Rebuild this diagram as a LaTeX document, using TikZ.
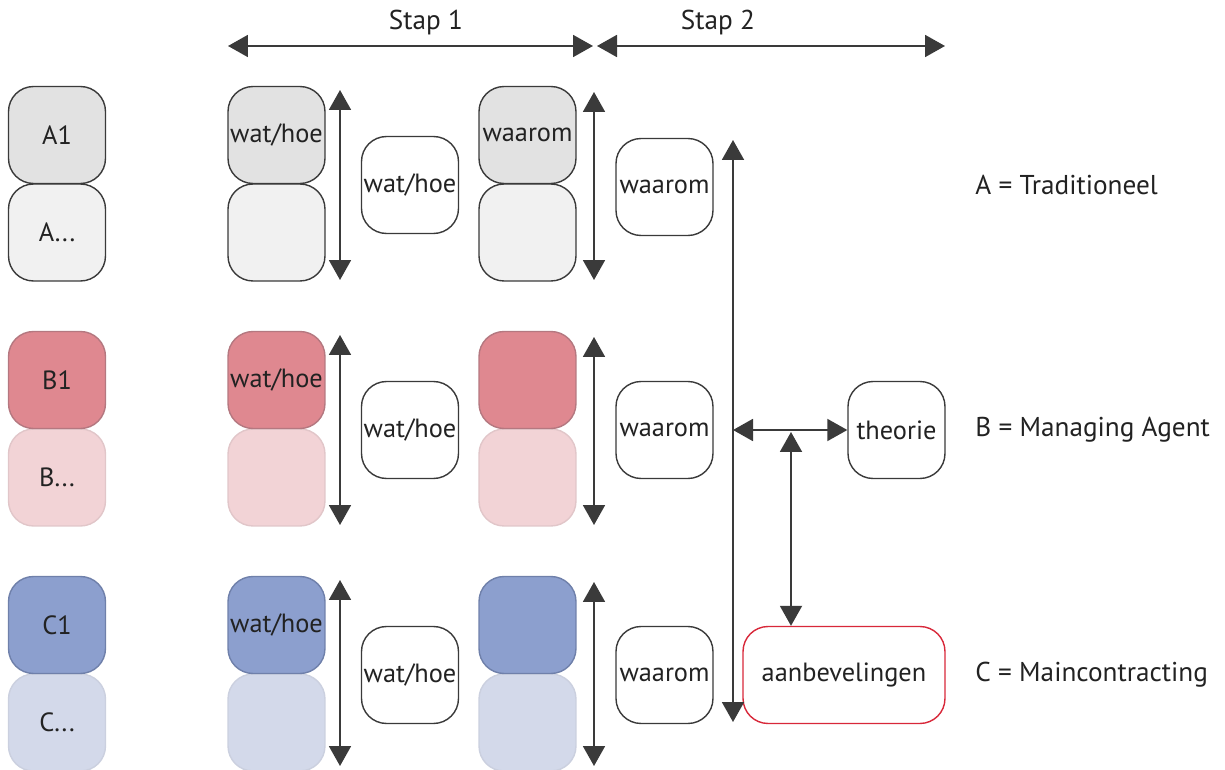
\documentclass[tikz,border=0pt]{standalone}
\usepackage{fontspec}
\setmainfont{PT Sans}
\usetikzlibrary{arrows.meta}
\definecolor{edgegray}{HTML}{3A3A3A}
\definecolor{agray}{HTML}{E2E2E2}
\definecolor{agraylt}{HTML}{F1F1F1}
\definecolor{bred}{HTML}{DF8890}
\definecolor{bredln}{HTML}{B47880}
\definecolor{bredlt}{HTML}{F2D3D6}
\definecolor{cblue}{HTML}{8C9FCE}
\definecolor{cblueln}{HTML}{6F80AA}
\definecolor{cbluelt}{HTML}{D3D9EA}
\definecolor{txt}{HTML}{222222}
\definecolor{recred}{HTML}{D8283A}
\tikzset{
  box/.style={rounded corners=0.5cm, minimum width=1.94cm, minimum height=1.94cm,
    inner sep=0pt, line width=0.8pt, font=\fontsize{15}{17}\selectfont, text=txt},
  boxa/.style={box, draw=edgegray, fill=agray},
  boxalt/.style={box, draw=edgegray, fill=agraylt},
  boxb/.style={box, draw=bredln, fill=bred},
  boxblt/.style={box, draw=bredlt!85!gray, fill=bredlt},
  boxc/.style={box, draw=cblueln, fill=cblue},
  boxclt/.style={box, draw=cbluelt!90!gray, fill=cbluelt},
  plain/.style={box, draw=edgegray, fill=white},
  link/.style={line width=1.1pt, draw=edgegray,
    {Triangle[length=0.40cm,width=0.44cm]}-{Triangle[length=0.40cm,width=0.44cm]}},
  legend/.style={anchor=west, inner sep=0pt, font=\fontsize{15.5}{17}\selectfont, text=txt},
  steplabel/.style={inner sep=0pt, font=\fontsize{15.5}{17}\selectfont, text=txt}
}
\begin{document}
\begin{tikzpicture}[x=0.02cm, y=-0.02cm]
\useasboundingbox (0,0) rectangle (1225,770);

% step header
\coordinate (s1l) at (228,46);
\coordinate (s1r) at (593,46);
\coordinate (s2l) at (597,46);
\coordinate (s2r) at (945,46);
\draw[link] (s1l) -- (s1r);
\draw[link] (s2l) -- (s2r);
\node[steplabel] (stap1) at (426,23) {Stap 1};
\node[steplabel] (stap2) at (718,23) {Stap 2};

% row A
\node[boxalt] (a2) at (57,232.5) {A...};
\node[boxa] (a1) at (57,135) {A1};
\node[boxalt] (aw2) at (276.5,232.5) {};
\node[boxa] (aw1) at (276.5,135) {wat/hoe};
\node[plain] (awh) at (410,185) {wat/hoe};
\node[boxalt] (ar2) at (527.5,232.5) {};
\node[boxa] (ar1) at (527.5,135) {waarom};
\node[plain] (awr) at (664.5,187) {waarom};
\coordinate (aat) at (340,90); \coordinate (aab) at (340,280);
\coordinate (abt) at (594,92); \coordinate (abb) at (594,280);
\draw[link] (aat) -- (aab);
\draw[link] (abt) -- (abb);
\node[legend] (la) at (975,185) {A = Traditioneel};

% row B
\node[boxblt] (b2) at (57,477.5) {B...};
\node[boxb] (b1) at (57,380) {B1};
\node[boxblt] (bw2) at (276.5,477.5) {};
\node[boxb] (bw1) at (276.5,380) {wat/hoe};
\node[plain] (bwh) at (410,430) {wat/hoe};
\node[boxblt] (br2) at (527.5,477.5) {};
\node[boxb] (br1) at (527.5,380) {};
\node[plain] (bwr) at (664.5,430) {waarom};
\coordinate (bat) at (340,335); \coordinate (bab) at (340,525);
\coordinate (bbt) at (594,337); \coordinate (bbb) at (594,525);
\draw[link] (bat) -- (bab);
\draw[link] (bbt) -- (bbb);
\node[legend] (lb) at (975,430) {B = Managing Agent};

% row C
\node[boxclt] (c2) at (57,722.5) {C...};
\node[boxc] (c1) at (57,625) {C1};
\node[boxclt] (cw2) at (276.5,722.5) {};
\node[boxc] (cw1) at (276.5,625) {wat/hoe};
\node[plain] (cwh) at (410,675) {wat/hoe};
\node[boxclt] (cr2) at (527.5,722.5) {};
\node[boxc] (cr1) at (527.5,625) {};
\node[plain] (cwr) at (664.5,675) {waarom};
\coordinate (cat) at (340,580); \coordinate (cab) at (340,766);
\coordinate (cbt) at (594,582); \coordinate (cbb) at (594,766);
\draw[link] (cat) -- (cab);
\draw[link] (cbt) -- (cbb);
\node[legend] (lc) at (975,675) {C = Maincontracting};

% theory and recommendations
\node[plain] (theorie) at (896.5,430) {theorie};
\node[box, draw=recred, fill=white, minimum width=4.04cm] (aanb) at (844,675) {aanbevelingen};
\coordinate (spt) at (733,140);
\coordinate (spb) at (733,722);
\coordinate (spm) at (733,430);
\coordinate (hub) at (791,432);
\draw[link] (spt) -- (spb);
\draw[link] (spm) -- (theorie.west);
\draw[link] (hub) -- (aanb.north -| hub);
\end{tikzpicture}
\end{document}
